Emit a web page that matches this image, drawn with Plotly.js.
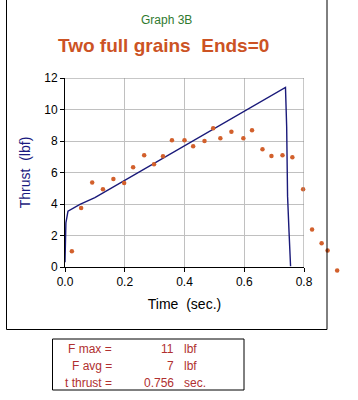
<!DOCTYPE html>
<html><head><meta charset="utf-8">
<script src="https://cdn.plot.ly/plotly-3.0.1.min.js"></script>
<style>html,body{margin:0;padding:0;background:#fff}#c{width:358px;height:400px}</style>
</head><body><div id="c"></div>
<script>
// Measured (scattered) thrust data
const measTime = [0.023,0.054,0.091,0.127,0.162,0.198,0.228,0.265,0.298,0.328,0.358,0.400,0.429,0.467,0.496,0.520,0.557,0.597,0.626,0.661,0.691,0.728,0.761,0.797,0.827,0.859,0.879,0.911];
const measThrust = [1.0,3.74,5.37,4.93,5.58,5.33,6.33,7.09,6.52,7.03,8.05,8.05,7.67,8.0,8.81,8.18,8.58,8.18,8.69,7.48,7.05,7.09,6.97,4.93,2.38,1.51,1.04,-0.22];
// Predicted thrust curve
const predTime = [0.0,0.003,0.01,0.05,0.1,0.2,0.4,0.6,0.738,0.742,0.745,0.75,0.755];
const predThrust = [0.3,2.8,3.55,3.98,4.4,5.5,7.7,9.9,11.4,8.9,4.5,2.2,0.05];
const xTicks = [0,0.2,0.4,0.6,0.8];
const yTicks = [0,2,4,6,8,10,12];
const statLabels = ["F max =","F avg =","t thrust ="];
const statValues = ["11","7","0.756"];
const statUnits = ["lbf","lbf","sec."];

const W=358,H=400;
// main plot area in pixels
const axL=65, axR=304, axT=78, axB=267;
// extended area (for points drawn beyond the axes)
const ml=65, mr=8, mt=78, mb=115;
const pw=W-ml-mr, ph=H-mt-mb;
const px = x => (x-ml)/pw;
const py = y => (H-mb-y)/ph;
const xMax=0.8, yMax=12;
const xScale=(axR-axL)/xMax, yScale=(axB-axT)/yMax;
const x2Max=(W-mr-axL)/xScale;
const y2Min=-((H-mb)-axB)/yScale;

const traces = [
 {x:predTime,y:predThrust,mode:'lines',line:{color:'#1a1a7a',width:1.4},cliponaxis:false,hoverinfo:'skip'},
 {x:measTime,y:measThrust,xaxis:'x2',yaxis:'y2',mode:'markers',marker:{color:'#d2602c',size:4.5},cliponaxis:false,hoverinfo:'skip'}
];

const red='#b03030';
const F='Arial, Liberation Sans';
const ann = [
 {text:'Graph 3B',x:px(166),y:py(20),xref:'paper',yref:'paper',yanchor:'middle',showarrow:false,font:{family:F,size:12,color:'#2f7a2f'}},
 {text:'<b>Two full grains  Ends=0</b>',x:px(163),y:py(46),xref:'paper',yref:'paper',yanchor:'middle',showarrow:false,font:{family:F,size:19,color:'#cc5324'}}
];
statLabels.forEach((s,i)=>{
  const yy=[349,366,383][i];
  ann.push({text:s,x:px(114),y:py(yy),xref:'paper',yref:'paper',xanchor:'right',yanchor:'middle',showarrow:false,font:{family:F,size:12,color:red}});
  ann.push({text:statValues[i],x:px(176),y:py(yy),xref:'paper',yref:'paper',xanchor:'right',yanchor:'middle',showarrow:false,font:{family:F,size:12,color:red}});
  ann.push({text:statUnits[i],x:px(182),y:py(yy),xref:'paper',yref:'paper',xanchor:'left',yanchor:'middle',showarrow:false,font:{family:F,size:12,color:red}});
});

const layout = {
  width:W,height:H,margin:{l:ml,r:mr,t:mt,b:mb},
  paper_bgcolor:'#fff',plot_bgcolor:'rgba(0,0,0,0)',showlegend:false,
  font:{family:F,color:'#000'},
  xaxis:{domain:[0,px(axR)],range:[0,xMax],tickvals:xTicks,tickformat:'.1f',showgrid:true,gridcolor:'#c0c0c0',gridwidth:1,
    showline:true,linecolor:'#000',linewidth:1,ticks:'outside',ticklen:4,tickcolor:'#000',
    tickfont:{size:12,color:'#000'},zeroline:false,anchor:'y',
    title:{text:'Time  (sec.)',font:{size:14,color:'#000'},standoff:10}},
  yaxis:{domain:[py(axB),1],range:[0,yMax],tickvals:yTicks,showgrid:true,gridcolor:'#c0c0c0',gridwidth:1,
    showline:true,linecolor:'#000',linewidth:1,ticks:'outside',ticklen:4,tickcolor:'#000',
    tickfont:{size:12,color:'#000'},zeroline:false,anchor:'x',
    title:{text:'Thrust  (lbf)',font:{size:14,color:'#1a1a80'},standoff:10}},
  xaxis2:{domain:[0,1],range:[0,x2Max],visible:false,showgrid:false,zeroline:false,anchor:'y2'},
  yaxis2:{domain:[0,1],range:[y2Min,yMax],visible:false,showgrid:false,zeroline:false,anchor:'x2'},
  shapes:[
   {type:'line',xref:'x',yref:'y',x0:0,x1:xMax,y0:yMax,y1:yMax,line:{color:'#909090',width:1}},
   {type:'line',xref:'x',yref:'y',x0:xMax,x1:xMax,y0:0,y1:yMax,line:{color:'#909090',width:1}},
   {type:'rect',xref:'paper',yref:'paper',x0:px(6.5),x1:px(327),y0:py(329.5),y1:py(-2),line:{color:'#000',width:1}},
   {type:'rect',xref:'paper',yref:'paper',x0:px(52.5),x1:px(244),y0:py(390),y1:py(339),line:{color:'#000',width:1}}
  ],
  annotations:ann
};
Plotly.newPlot('c',traces,layout,{staticPlot:true});
</script></body></html>
